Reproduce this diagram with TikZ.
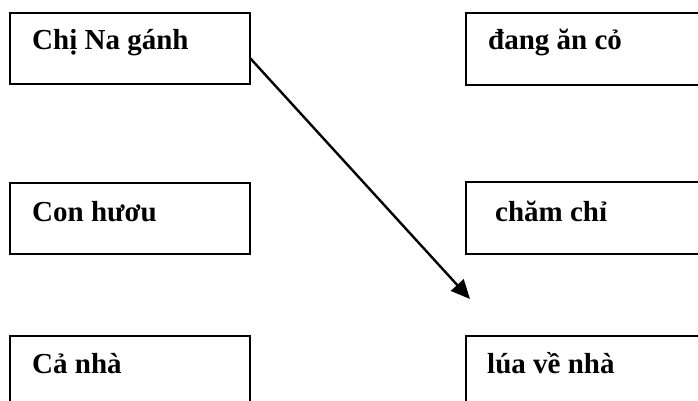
\documentclass[tikz,border=0pt]{standalone}
\usepackage{fontspec}
\setmainfont{Liberation Serif}
\usetikzlibrary{arrows.meta,calc}
\begin{document}
\begin{tikzpicture}[x=1pt,y=-1pt,
  box/.style={draw=black,line width=2.2pt,rectangle,inner sep=0pt,outer sep=0pt},
  lbox/.style={box,minimum width=240pt},
  rbox/.style={box,minimum width=264pt},
  lbl/.style={anchor=base west,inner sep=0pt,font=\fontsize{29}{34}\selectfont\bfseries},
  conn/.style={line width=2.4pt,-{Triangle[length=19pt,width=17pt]}}]
\useasboundingbox (0,0) rectangle (698,401);
\clip (0,0) rectangle (698,401);
\node[lbox,minimum height=71pt] (b1) at (130,48.5) {};
\node[rbox,minimum height=72pt] (b2) at (598,49) {};
\node[lbox,minimum height=71pt] (b3) at (130,218.5) {};
\node[rbox,minimum height=72pt] (b4) at (598,218) {};
\node[lbox,minimum height=94pt] (b5) at (130,383) {};
\node[rbox,minimum height=94pt] (b6) at (598,383) {};
\node[lbl] (t1) at (32,50) {Chị Na gánh};
\node[lbl] (t2) at (488,50) {đang ăn cỏ};
\node[lbl] (t3) at (32,221) {Con hươu};
\node[lbl] (t4) at (495,221) {chăm chỉ};
\node[lbl] (t5) at (32,373) {Cả nhà};
\node[lbl] (t6) at (487,373) {lúa về nhà};
\coordinate (src) at ($(b1.north east)!0.634!(b1.south east)$);
\coordinate (tip) at (470,299);
\draw[conn] (src) -- (tip);
\end{tikzpicture}
\end{document}
